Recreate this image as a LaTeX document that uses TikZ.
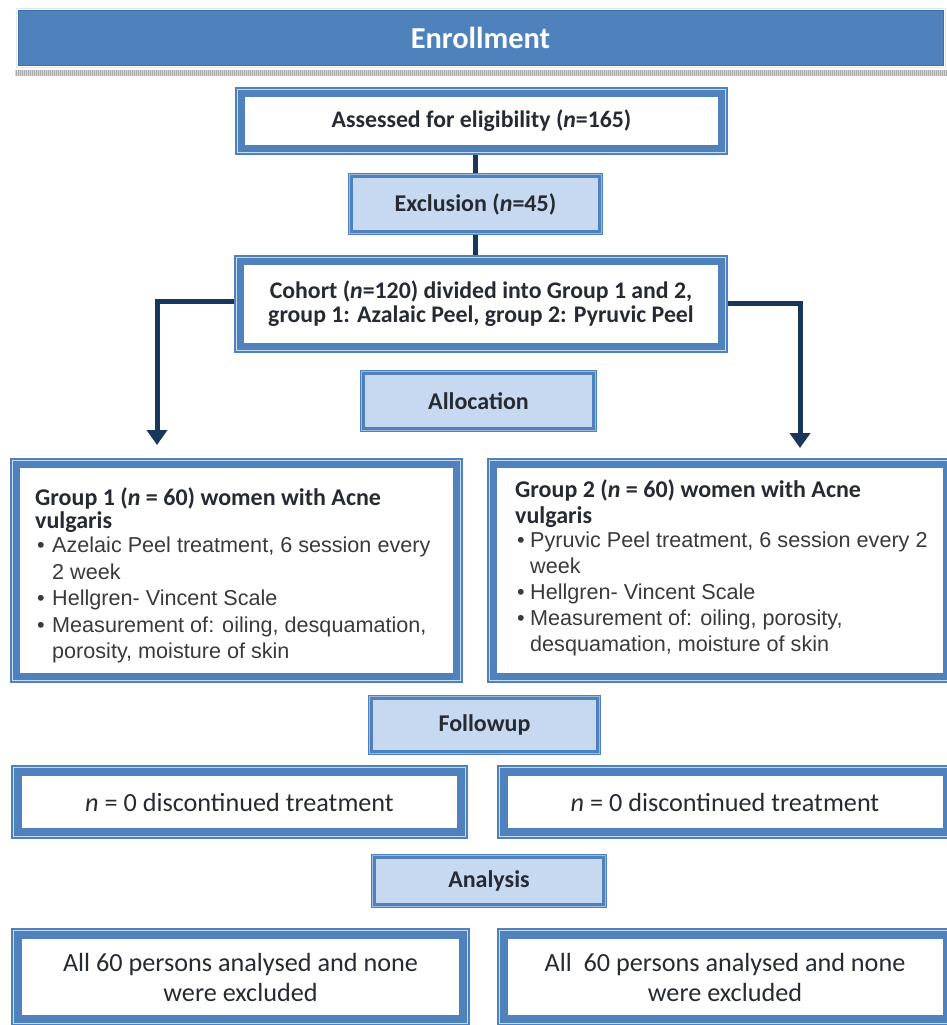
\documentclass[tikz,border=0pt]{standalone}
\usepackage{fontspec}
\setmainfont{Carlito}
\newfontfamily\arialf{Liberation Sans}
\usetikzlibrary{arrows.meta,backgrounds}
\definecolor{fblue}{HTML}{4F81BD}
\definecolor{edgeblue}{HTML}{3E6EA8}
\definecolor{lfill}{HTML}{C6D9F0}
\definecolor{inlin}{HTML}{C9DAF0}
\definecolor{navy}{HTML}{1B365D}
\definecolor{txt}{HTML}{262A33}
\definecolor{btxt}{HTML}{3A3A3A}
\begin{document}
\begin{tikzpicture}[x=1pt,y=-1pt,
  frame/.style={draw=fblue,line width=10pt,fill=white,inner sep=0pt,align=center,text=txt},
  thinframe/.style={frame,line width=11pt},
  lbox/.style={draw=fblue,line width=5pt,fill=lfill,inner sep=0pt,text=txt,
    font=\bfseries\fontsize{24}{26}\selectfont},
  conn/.style={draw=navy,line width=5pt},
  arr/.style={conn,-{Triangle[width=20pt,length=15pt]}},
  enroll/.style={fill=fblue,draw=edgeblue,line width=0.8pt,text=white,inner sep=0pt,
    font=\bfseries\fontsize{30.4}{34}\selectfont},
  inline/.style={draw=inlin,line width=0.9pt},
  btitle/.style={font=\bfseries\fontsize{23.8}{24}\selectfont},
  rtext/.style={font=\fontsize{26.2}{30}\selectfont},
  gtext/.style={inner sep=0pt,anchor=base west,text=txt}
]
\useasboundingbox (0,0) rectangle (947,1025);

% Enrollment bar
\draw[line width=0.8pt,draw=inlin!60] (16,8) rectangle (945,67);
\node[enroll,minimum width=925pt,minimum height=55pt] (enr) at (480.5,37.5) {Enrollment};
\draw[line width=5pt,gray!65] (15,73) -- (947,73);
\draw[line width=5pt,white,opacity=0.5,dash pattern=on 0.7pt off 1.3pt] (15,73) -- (947,73);

% Boxes
\node[frame,btitle,minimum width=483pt,minimum height=58pt] (assess) at (481.5,121)
  {Assessed for eligibility (\textit{n}=165)};
\node[lbox,minimum width=250pt,minimum height=57pt] (excl) at (475.5,204)
  {Exclusion (\textit{n}=45)};
\node[frame,btitle,minimum width=484pt,minimum height=88pt] (cohort) at (481,304)
  {Cohort (\textit{n}=120) divided into Group 1 and 2,\\group 1: Azalaic Peel, group 2: Pyruvic Peel};
\node[lbox,minimum width=232pt,minimum height=57pt] (alloc) at (478.5,401) {Allocation};
\node[frame,minimum width=443pt,minimum height=215pt] (g1) at (236.5,570.5) {};
\node[frame,minimum width=456pt,minimum height=215pt] (g2) at (720,570.5) {};
\node[lbox,minimum width=228pt,minimum height=55pt] (follow) at (484.5,725) {Followup};
\node[thinframe,rtext,minimum width=446pt,minimum height=63pt] (d1) at (239.5,802)
  {\textit{n} = 0 discontinued treatment};
\node[thinframe,rtext,minimum width=446pt,minimum height=63pt] (d2) at (725,802)
  {\textit{n} = 0 discontinued treatment};
\node[lbox,minimum width=231pt,minimum height=49pt] (anal) at (489,881) {Analysis};
\node[thinframe,rtext,minimum width=448pt,minimum height=87pt] (a1) at (240.5,977)
  {All 60 persons analysed and none\\were excluded};
\node[thinframe,rtext,minimum width=446pt,minimum height=87pt] (a2) at (725,977)
  {All\ \ 60 persons analysed and none\\were excluded};

% inner light lines of the framed boxes
\foreach \n in {assess,cohort,g1,g2,d1,d2,a1,a2}{
  \draw[inline] ([shift={(2.5pt,-2.5pt)}]\n.north west) rectangle ([shift={(-2.5pt,2.5pt)}]\n.south east);
}
\foreach \n in {excl,alloc,follow,anal}{
  \draw[draw=white,opacity=0.45,line width=0.8pt] ([shift={(1.5pt,-1.5pt)}]\n.north west) rectangle ([shift={(-1.5pt,1.5pt)}]\n.south east);
}

% Group texts
\node[gtext] (g1t) at (35,505) {\parbox[t]{425pt}{%
  {\bfseries\fontsize{24}{23}\selectfont Group 1 (\textit{n} = 60) women with Acne\\vulgaris\par}
  \vspace{-2pt}
  {\arialf\fontsize{21.6}{26.5}\selectfont\color{btxt}%
  \hspace*{2pt}\makebox[15pt][l]{•}Azelaic Peel treatment, 6 session every\\
  \hspace*{17pt}2 week\\
  \hspace*{2pt}\makebox[15pt][l]{•}Hellgren- Vincent Scale\\
  \hspace*{2pt}\makebox[15pt][l]{•}Measurement of: oiling, desquamation,\\
  \hspace*{17pt}porosity, moisture of skin\par}}};
\node[gtext] (g2t) at (515,497) {\parbox[t]{428pt}{%
  {\bfseries\fontsize{24}{26}\selectfont Group 2 (\textit{n} = 60) women with Acne\\vulgaris\par}
  \vspace{-2pt}
  {\arialf\fontsize{21.6}{26}\selectfont\color{btxt}%
  \hspace*{2pt}\makebox[13pt][l]{•}Pyruvic Peel treatment, 6 session every 2\\
  \hspace*{15pt}week\\
  \hspace*{2pt}\makebox[13pt][l]{•}Hellgren- Vincent Scale\\
  \hspace*{2pt}\makebox[13pt][l]{•}Measurement of: oiling, porosity,\\
  \hspace*{15pt}desquamation, moisture of skin\par}}};

% Connectors
\begin{scope}[on background layer]
  \fill[white] (0,0) rectangle (947,1025);
  \draw[conn] (assess.south -| excl.north) -- (excl.north);
  \draw[conn] (excl.south) -- (excl.south |- cohort.north);
  \draw[arr,shorten >=13pt] ([yshift=3pt]cohort.west) -| ([xshift=-79.5pt]g1.north);
  \draw[arr,shorten >=10pt] ([yshift=1pt]cohort.east) -| ([xshift=80pt]g2.north);
\end{scope}
\end{tikzpicture}
\end{document}
